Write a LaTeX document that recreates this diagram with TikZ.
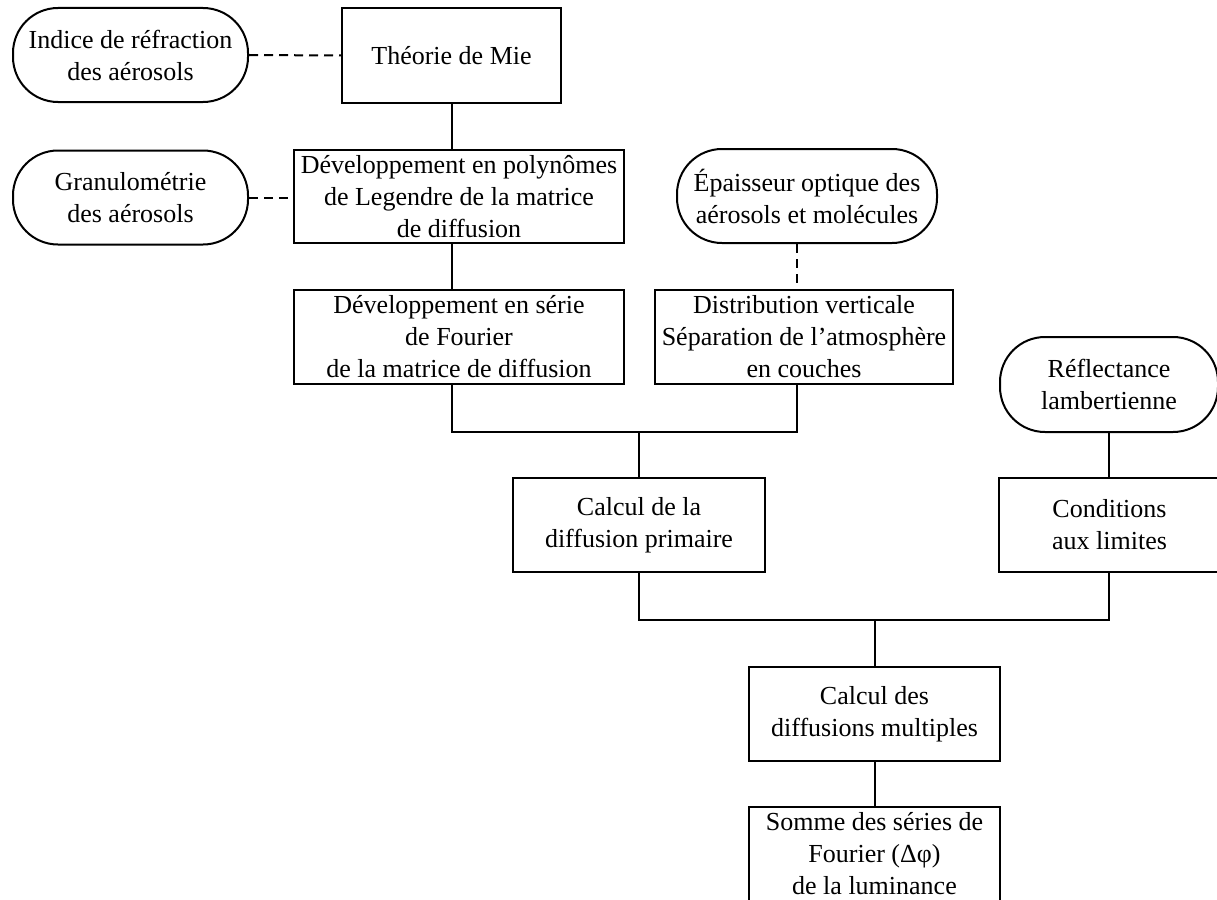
\documentclass[tikz,border=0pt]{standalone}
\usepackage{fontspec}
\setmainfont{Liberation Serif}
\usetikzlibrary{calc}
\tikzset{
  every node/.style={font=\fontsize{26}{32}\selectfont, align=center, inner sep=0pt},
  boxnode/.style={draw, line width=2pt, rectangle, minimum width=#1, minimum height=94pt},
  pillnode/.style={draw, line width=2pt, rectangle, rounded corners=45pt, minimum width=#1, minimum height=94pt},
  conn/.style={line width=2pt},
  dconn/.style={line width=2pt, dash pattern=on 9pt off 6pt},
}
\begin{document}
\begin{tikzpicture}[x=1pt,y=-1pt]
\clip (0,0) rectangle (1217,899);
\fill[white] (0,0) rectangle (1217,899);

\node[pillnode=235pt] (indice) at (130.5,55) {Indice de réfraction\\des aérosols};
\node[boxnode=219pt, minimum height=95pt] (theorie) at (451.5,55.5) {Théorie de Mie};
\node[pillnode=235pt] (granulo) at (130.5,197.5) {Granulométrie\\des aérosols};
\node[boxnode=330pt, minimum height=93pt] (devpoly) at (459,196.5) {Développement en polynômes\\de Legendre de la matrice\\de diffusion};
\node[boxnode=330pt] (devserie) at (459,337) {Développement en série\\de Fourier\\de la matrice de diffusion};
\node[pillnode=260pt] (epais) at (807,196) {Épaisseur optique des\\aérosols et molécules};
\node[boxnode=298pt] (distr) at (804,337) {Distribution verticale\\Séparation de l’atmosphère\\en couches};
\node[boxnode=252pt] (primaire) at (639,525) {Calcul de la\\diffusion primaire};
\node[pillnode=218pt, minimum height=95pt] (reflect) at (1109,384.5) {Réflectance\\lambertienne};
\node[boxnode=221pt] (cond) at (1109.5,525) {Conditions\\aux limites};
\node[boxnode=251pt] (multi) at (874.5,714) {Calcul des\\diffusions multiples};
\node[boxnode=251pt] (somme) at (874.5,854) {Somme des séries de\\Fourier (Δφ)\\de la luminance};

\coordinate (colA) at (452,0);
\coordinate (colB) at (797,0);
\coordinate (j1) at (639,432);
\coordinate (j2) at (875,620);

\draw[dconn] (indice.east) -- (theorie.west);
\draw[dconn] (granulo.east) -- (granulo.east -| devpoly.west);
\draw[conn] (theorie.south -| colA) -- (devpoly.north -| colA);
\draw[conn] (devpoly.south -| colA) -- (devserie.north -| colA);
\draw[dconn] (epais.south -| colB) -- (distr.north -| colB);
\draw[conn] (devserie.south -| colA) |- (j1) -| (distr.south -| colB);
\draw[conn] (j1) -- (primaire.north);
\draw[conn] (reflect.south) -- (cond.north -| reflect.south);
\draw[conn] (primaire.south) |- (j2) -| (cond.south -| reflect.south);
\draw[conn] (j2) -- (multi.north -| j2);
\draw[conn] (multi.south -| j2) -- (somme.north -| j2);
\end{tikzpicture}
\end{document}
